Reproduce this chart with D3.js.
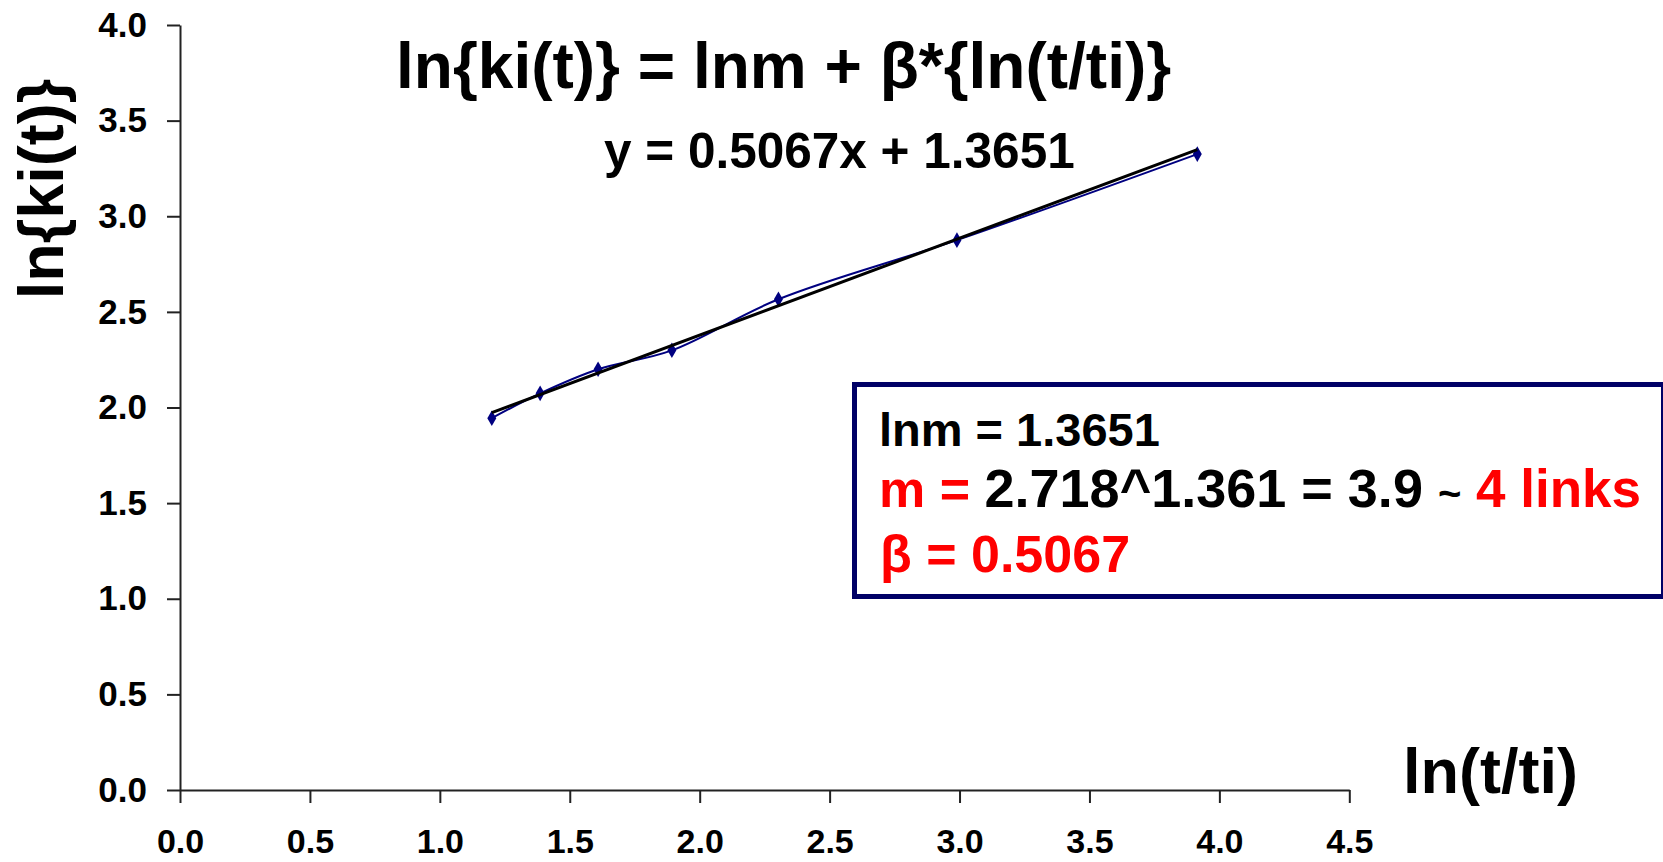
<!DOCTYPE html>
<html>
<head>
<meta charset="utf-8">
<script src="https://cdn.jsdelivr.net/npm/d3@7"></script>
<style>
  html, body { margin: 0; padding: 0; background: #ffffff; }
  svg { display: block; }
  text { font-family: "Liberation Sans", Arial, Helvetica, sans-serif; font-weight: bold; }
</style>
</head>
<body>
<svg id="chart" width="1663" height="862"></svg>
<script>
// ---- data ----
const lnT = [1.200, 1.386, 1.609, 1.893, 2.303, 2.990, 3.915];   // ln(t/ti)
const lnK = [1.944, 2.074, 2.200, 2.299, 2.566, 2.875, 3.325];   // ln{ki(t)}
const slope = 0.5067;
const intercept = 1.3651;
const xTicks = [0, 0.5, 1, 1.5, 2, 2.5, 3, 3.5, 4, 4.5];
const yTicks = [0, 0.5, 1, 1.5, 2, 2.5, 3, 3.5, 4];
const titleText = "ln{ki(t)} = lnm + β*{ln(t/ti)}";
const eqText = "y = 0.5067x + 1.3651";
const xTitle = "ln(t/ti)";
const yTitle = "ln{ki(t)}";

const svg = d3.select("#chart");
svg.append("rect").attr("width", 1663).attr("height", 862).attr("fill", "#fff");

const x = d3.scaleLinear().domain([0, 4.5]).range([180, 1349.3]);
const y = d3.scaleLinear().domain([0, 4]).range([790, 25]);

// axes
const yAxis = d3.axisLeft(y).tickValues(yTicks).tickFormat(d3.format(".1f"))
  .tickSize(13).tickSizeOuter(0).tickPadding(20);
const xAxis = d3.axisBottom(x).tickValues(xTicks).tickFormat(d3.format(".1f"))
  .tickSize(13).tickSizeOuter(0).tickPadding(26);

const gy = svg.append("g").attr("transform", "translate(180,0)").call(yAxis);
const gx = svg.append("g").attr("transform", "translate(0,790)").call(xAxis);
[gx, gy].forEach(g => {
  g.selectAll("path.domain").attr("stroke", "#222").attr("stroke-width", 2);
  g.selectAll(".tick line").attr("stroke", "#222").attr("stroke-width", 2);
  g.selectAll(".tick text").attr("fill", "#000")
    .attr("font-family", "Liberation Sans, Arial, sans-serif").attr("font-weight", "bold");
});
gy.selectAll(".tick text").attr("font-size", 35);
gx.selectAll(".tick text").attr("font-size", 34);

// data series (smoothed navy line with diamond markers)
const pts = lnT.map((v, i) => [v, lnK[i]]);
svg.append("path")
  .attr("d", d3.line().x(d => x(d[0])).y(d => y(d[1])).curve(d3.curveCatmullRom.alpha(0.5))(pts))
  .attr("fill", "none").attr("stroke", "#000080").attr("stroke-width", 2);
svg.selectAll("path.mk").data(pts).enter().append("path")
  .attr("class", "mk")
  .attr("transform", d => `translate(${x(d[0])},${y(d[1])})`)
  .attr("d", d3.symbol().type(d3.symbolDiamond).size(70))
  .attr("fill", "#000080");

// linear trendline over data range
const xr = d3.extent(lnT);
svg.append("line")
  .attr("x1", x(xr[0])).attr("y1", y(slope * xr[0] + intercept))
  .attr("x2", x(xr[1])).attr("y2", y(slope * xr[1] + intercept))
  .attr("stroke", "#000").attr("stroke-width", 3);

// titles
svg.append("text").attr("x", 396).attr("y", 88).attr("font-size", 64).attr("fill", "#000").text(titleText);
svg.append("text").attr("x", 604).attr("y", 168).attr("font-size", 49.5).attr("fill", "#000").text(eqText);
svg.append("text").attr("x", 1403).attr("y", 793).attr("font-size", 63).attr("fill", "#000").text(xTitle);
svg.append("text").attr("transform", "translate(63,189) rotate(-90)")
  .attr("text-anchor", "middle").attr("font-size", 63).attr("fill", "#000").text(yTitle);

// annotation box
svg.append("rect").attr("x", 854.5).attr("y", 384.5).attr("width", 809).attr("height", 212)
  .attr("fill", "#fff").attr("stroke", "#000066").attr("stroke-width", 5);
svg.append("text").attr("x", 879).attr("y", 446).attr("font-size", 47).attr("fill", "#000").text("lnm = 1.3651");
const l2 = svg.append("text").attr("x", 879).attr("y", 507).attr("font-size", 52);
l2.append("tspan").attr("fill", "#ff0000").text("m = ");
l2.append("tspan").attr("fill", "#000").attr("font-size", 54).text("2.718^1.361 = 3.9 ");
l2.append("tspan").attr("fill", "#000").attr("font-size", 40).text("~");
l2.append("tspan").attr("fill", "#ff0000").attr("font-size", 53).text(" 4 links");
svg.append("text").attr("x", 880).attr("y", 572).attr("font-size", 52).attr("fill", "#ff0000").text("β = 0.5067");
</script>
</body>
</html>
